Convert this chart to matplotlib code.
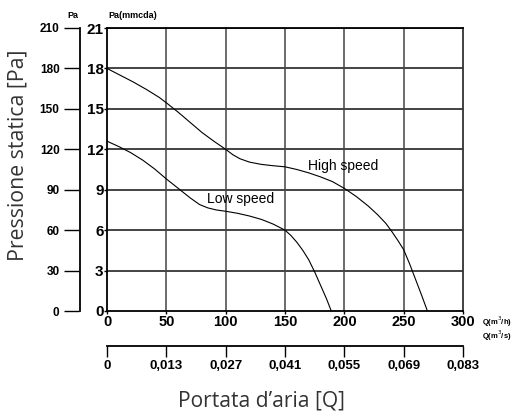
import matplotlib
matplotlib.use("Agg")
import matplotlib.pyplot as plt

# --- data ---
high_q = [0, 11, 22, 33, 44, 50, 60, 70, 80, 90, 100, 106, 112, 120, 130,
          140, 150, 160, 170, 180, 190, 200, 210, 220, 228, 235, 240, 245,
          250, 255, 260, 265, 270]
high_p = [18, 17.5, 17.0, 16.45, 15.85, 15.45, 14.75, 14.0, 13.25, 12.6,
          12.0, 11.6, 11.3, 11.05, 10.88, 10.78, 10.7, 10.5, 10.25, 9.95,
          9.6, 9.1, 8.5, 7.8, 7.15, 6.5, 5.9, 5.25, 4.55, 3.5, 2.35, 1.2, 0]
low_q = [0, 10, 20, 30, 40, 50, 60, 70, 78, 85, 92, 100, 110, 120, 130,
         140, 150, 155, 160, 165, 170, 175, 180, 185, 189]
low_p = [12.6, 12.2, 11.75, 11.2, 10.55, 9.8, 9.1, 8.4, 7.9, 7.65, 7.5,
         7.4, 7.25, 7.05, 6.8, 6.45, 6.0, 5.6, 5.1, 4.5, 3.8, 2.9, 1.9, 0.9, 0]

q_ticks = [0, 50, 100, 150, 200, 250, 300]
q_s_labels = ["0", "0,013", "0,027", "0,041", "0,055", "0,069", "0,083"]
mmcda_ticks = [0, 3, 6, 9, 12, 15, 18, 21]
pa_ticks = [0, 30, 60, 90, 120, 150, 180, 210]

W, H = 518, 416
TICKFONT = ["Liberation Sans Narrow", "Liberation Sans", "DejaVu Sans"]
LABELFONT = ["Open Sans", "DejaVu Sans"]


def box(x0, y0, x1, y1):
    # pixel box (top-left origin) -> figure fraction rect
    return [x0 / W, 1 - y1 / H, (x1 - x0) / W, (y1 - y0) / H]


def bold_ticks(labels):
    for lab in labels:
        lab.set_family(TICKFONT)
        lab.set_fontweight("bold")


fig = plt.figure(figsize=(W / 100, H / 100), dpi=100)

# main chart
ax = fig.add_axes(box(107, 28, 463, 311))
ax.set_xlim(0, 300)
ax.set_ylim(0, 21)
for v in mmcda_ticks[1:]:
    ax.axhline(v, color="#111111", lw=1.1, zorder=1)
for v in q_ticks[1:-1]:
    ax.axvline(v, color="#444444", lw=1.1, zorder=1)
ax.plot(high_q, high_p, color="black", lw=0.8, zorder=3)
ax.plot(low_q, low_p, color="black", lw=0.8, zorder=3)
ax.text(169, 10.75, "High speed", fontsize=10, family=TICKFONT[1:],
        va="center", zorder=4)
ax.text(84, 8.3, "Low speed", fontsize=10, family=TICKFONT[1:],
        va="center", zorder=4)
ax.set_xticks(q_ticks)
ax.set_yticks(mmcda_ticks)
ax.tick_params(axis="x", length=2, width=1, pad=1, labelsize=10.5)
ax.tick_params(axis="y", length=2, width=1, pad=0.5, labelsize=11)
bold_ticks(ax.get_xticklabels() + ax.get_yticklabels())
for s in ["left", "bottom", "top"]:
    ax.spines[s].set_linewidth(1.3)
ax.spines["right"].set_color("#333333")
ax.spines["right"].set_linewidth(1.3)

# Pa axis on the far left
axp = fig.add_axes(box(79, 28, 80, 311))
axp.set_ylim(0, 210)
axp.set_yticks(pa_ticks)
axp.set_xticks([])
for s in ["top", "bottom", "left"]:
    axp.spines[s].set_visible(False)
axp.spines["right"].set_linewidth(1.3)
axp.yaxis.tick_left()
axp.tick_params(axis="y", length=11, width=1, pad=3, labelsize=8.5)
axp.patch.set_visible(False)
bold_ticks(axp.get_yticklabels())

# second flow axis (m3/s)
axq = fig.add_axes(box(107, 345, 463, 346))
axq.set_xlim(0, 300)
axq.set_yticks([])
axq.set_xticks(q_ticks)
axq.set_xticklabels(q_s_labels)
for s in ["top", "left", "right"]:
    axq.spines[s].set_visible(False)
axq.spines["bottom"].set_linewidth(1.3)
axq.patch.set_visible(False)
axq.tick_params(axis="x", length=8, width=1, pad=2, labelsize=9.5)
bold_ticks(axq.get_xticklabels())


# small unit labels
def px_text(x, y, s, size=6.5, ha="center"):
    fig.text(x / W, 1 - y / H, s, fontsize=size, family=TICKFONT,
             fontweight="bold", ha=ha, va="center")


px_text(73, 15, "Pa")
px_text(108, 15, "Pa(mmcda)", ha="left")
px_text(482, 322, "Q(m$^3$/h)", size=5.5, ha="left")
px_text(482, 336, "Q(m$^3$/s)", size=5.5, ha="left")

# axis titles, sized so their length matches the reference
ylab = fig.text(18 / W, 1 - 155 / H, "Pressione statica [Pa]", rotation=90,
                fontsize=14, family=LABELFONT, color="#333333",
                ha="center", va="center")
xlab = fig.text(262 / W, 1 - 401 / H, "Portata d\u2019aria [Q]",
                fontsize=15, family=LABELFONT, color="#333333",
                ha="center", va="center")
renderer = fig.canvas.get_renderer()
for t, target, along in [(ylab, 212, "h"), (xlab, 167, "w")]:
    ext = t.get_window_extent(renderer)
    size = ext.height if along == "h" else ext.width
    t.set_fontsize(t.get_fontsize() * target / size)

fig.savefig("out.png", dpi=100)
